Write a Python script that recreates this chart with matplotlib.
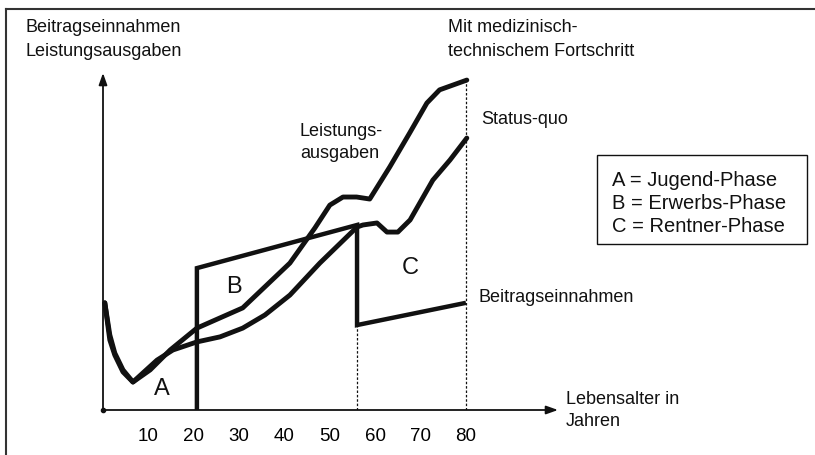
import matplotlib
matplotlib.use('Agg')
import matplotlib.pyplot as plt
from matplotlib.lines import Line2D
from matplotlib.patches import Rectangle

plt.rcParams['font.family'] = ['Liberation Sans', 'DejaVu Sans']

# --- data (age in years, relative amount 0..100) ---
age_progress = [0.4, 1.5, 2.6, 4.4, 6.6, 10.4, 14.8, 20.7, 30.8, 41.2, 46.7,
                50.0, 52.9, 55.9, 58.8, 63.2, 67.6, 71.4, 74.2, 80.2]
exp_progress = [31.8, 20.8, 16.3, 11.3, 8.3, 11.9, 17.8, 24.3, 30.3, 43.6, 54.0,
                60.8, 63.2, 63.2, 62.6, 72.1, 82.2, 91.1, 95.0, 97.9]

age_status = [0.4, 1.5, 2.6, 4.4, 6.6, 11.9, 15.4, 20.7, 25.8, 30.8, 35.7, 41.2,
              47.8, 56.0, 57.3, 60.4, 62.6, 65.0, 67.7, 72.7, 76.5, 80.2]
exp_status = [31.8, 22.3, 16.9, 11.9, 8.3, 14.8, 17.8, 20.2, 21.7, 24.3, 28.2, 34.1,
              43.6, 54.3, 54.9, 55.5, 52.8, 52.8, 56.4, 68.2, 74.2, 80.7]

age_contrib = [20.7, 20.7, 56.0, 56.0, 80.0]
contrib = [0, 42.1, 54.9, 25.2, 31.8]

retire_age = 56.0
end_age = 80.0

xtick_values = [10, 20, 30, 40, 50, 60, 70, 80]
xtick_labels = ['10', '20', '30', '40', '50', '60', '70', '80']

legend_lines = ['A = Jugend-Phase', 'B = Erwerbs-Phase', 'C = Rentner-Phase']

W, H = 815, 455
fig = plt.figure(figsize=(W / 100, H / 100), dpi=100)
fig.patch.set_facecolor('white')

# axes area in pixels: x 103..558, y 410..73
ax = fig.add_axes([103 / W, (H - 410) / H, (558 - 103) / W, (410 - 73) / H])
ax.set_xlim(0, 100.3)
ax.set_ylim(0, 100)
for s in ax.spines.values():
    s.set_visible(False)
ax.set_yticks([])
ax.set_xticks(xtick_values)
ax.set_xticklabels(xtick_labels)
ax.tick_params(axis='x', length=0, pad=13, labelsize=13.5)

ink = '#111111'

# axis arrows
ax.annotate('', xy=(1.0, 0), xytext=(0, 0), xycoords='axes fraction',
            arrowprops=dict(arrowstyle='-|>,head_length=0.7,head_width=0.25',
                            color=ink, lw=1.3, shrinkA=0, shrinkB=0))
ax.annotate('', xy=(0, 1.0), xytext=(0, 0), xycoords='axes fraction',
            arrowprops=dict(arrowstyle='-|>,head_length=0.7,head_width=0.25',
                            color=ink, lw=1.3, shrinkA=0, shrinkB=0))
ax.plot([0], [0], marker='o', ms=3, color=ink, clip_on=False)

# curves
ax.plot(age_progress, exp_progress, color=ink, lw=3.5, solid_capstyle='round',
        solid_joinstyle='round', clip_on=False)
ax.plot(age_status, exp_status, color=ink, lw=3.5, solid_capstyle='round',
        solid_joinstyle='round', clip_on=False)
ax.plot(age_contrib, contrib, color=ink, lw=3.2, solid_joinstyle='miter',
        solid_capstyle='butt', clip_on=False)

# dotted verticals
ax.plot([retire_age, retire_age], [0, contrib[3]], color=ink, lw=0.9,
        linestyle=(0, (2, 1.5)))
ax.plot([end_age, end_age], [0, exp_progress[-1]], color=ink, lw=0.9,
        linestyle=(0, (2, 1.5)))


def px(x, y):
    return ((x - 103) / 4.5375, (410 - y) / 3.37)


fs = 13
# phase letters
for letter, (x, y) in [('A', (162, 389)), ('B', (234, 287)), ('C', (410, 268))]:
    ax.text(*px(x, y), letter, fontsize=17, ha='center', va='center', color=ink)

# labels
ax.text(*px(300, 131), 'Leistungs-', fontsize=fs, ha='left', va='center', color=ink,
        clip_on=False)
ax.text(*px(300, 154), 'ausgaben', fontsize=fs, ha='left', va='center', color=ink,
        clip_on=False)
ax.text(*px(481, 120), 'Status-quo', fontsize=fs, ha='left', va='center', color=ink,
        clip_on=False)
ax.text(*px(479, 297), 'Beitragseinnahmen', fontsize=fs, ha='left', va='center',
        color=ink, clip_on=False)
ax.text(*px(566, 400), 'Lebensalter in', fontsize=fs, ha='left', va='center',
        color=ink, clip_on=False)
ax.text(*px(566, 422), 'Jahren', fontsize=fs, ha='left', va='center', color=ink,
        clip_on=False)
ax.text(*px(25, 28), 'Beitragseinnahmen', fontsize=fs, ha='left', va='center',
        color=ink, clip_on=False)
ax.text(*px(25, 52), 'Leistungsausgaben', fontsize=fs, ha='left', va='center',
        color=ink, clip_on=False)
ax.text(*px(448, 27), 'Mit medizinisch-', fontsize=fs, ha='left', va='center',
        color=ink, clip_on=False)
ax.text(*px(448, 51), 'technischem Fortschritt', fontsize=fs, ha='left', va='center',
        color=ink, clip_on=False)

# legend box (figure pixels)
fig.patches.append(Rectangle((597 / W, (H - 244) / H), (807 - 597) / W, (244 - 155) / H,
                             transform=fig.transFigure, fill=False, edgecolor=ink, lw=1.0))
for i, t in enumerate(legend_lines):
    fig.text(612 / W, (H - (180 + 23.5 * i)) / H, t, fontsize=14.5, ha='left',
             va='center', color=ink)

# outer frame (top and left only)
fig.add_artist(Line2D([6 / W, 1.0], [(H - 9) / H, (H - 9) / H], transform=fig.transFigure,
                      color='#333333', lw=1.5))
fig.add_artist(Line2D([6 / W, 6 / W], [0, (H - 9) / H], transform=fig.transFigure,
                      color='#333333', lw=1.5))

fig.savefig('out.png', dpi=100, facecolor='white')
